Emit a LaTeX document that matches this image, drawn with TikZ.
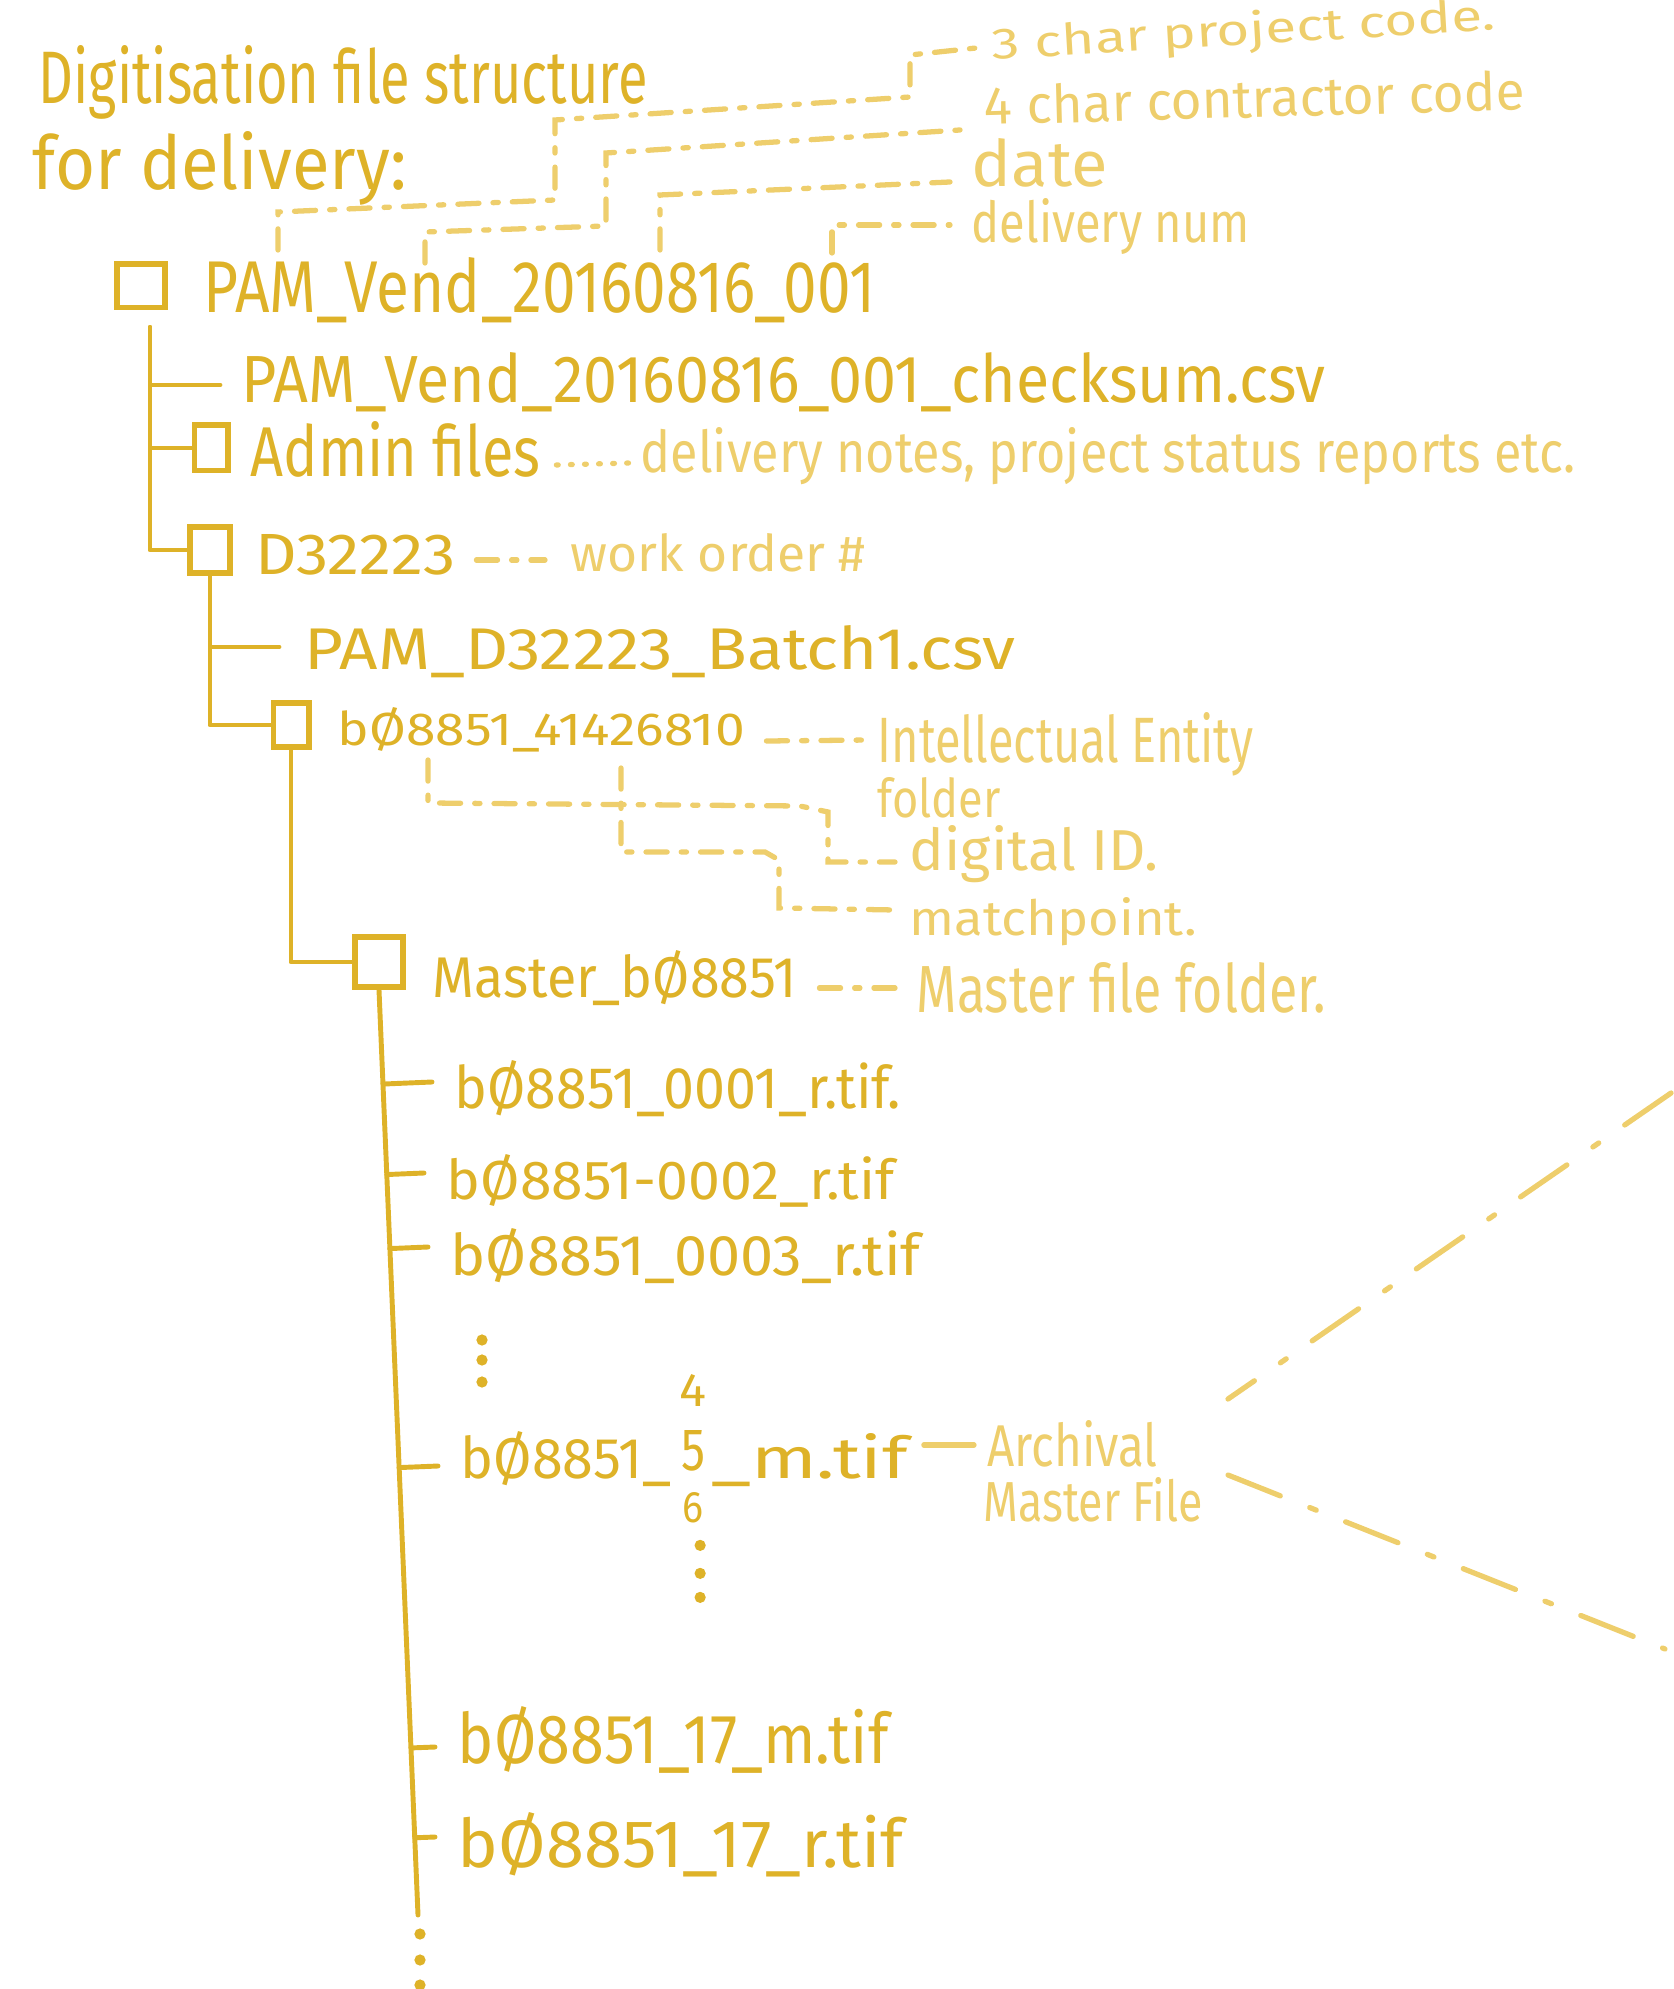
\documentclass[tikz,border=0pt]{standalone}
\usepackage{fontspec}
\setmainfont{Fira Sans}
\usepackage{graphicx}
\usetikzlibrary{positioning,calc}

\definecolor{inkgold}{RGB}{222,178,40}
\definecolor{palegold}{RGB}{238,206,108}

% one unit = one pixel of the sketch
\newdimen\px \px=0.01cm
\newcommand\handfit[3]{\resizebox{#1\px}{#2\px}{#3}}

\tikzset{
  ink/.style={text=inkgold, inner sep=0pt, anchor=base west},
  note/.style={text=palegold, inner sep=0pt, anchor=base west},
  folder/.style={draw=inkgold, line width=1.7pt, inner sep=0pt},
  branch/.style={draw=inkgold, line width=1.4pt, line cap=round, line join=round},
  guide/.style={draw=palegold, line width=1.5pt, line cap=round, dash pattern=on 6pt off 4pt on 1.5pt off 4pt},
  dots/.style={draw=palegold, line width=1.5pt, line cap=round, dash pattern=on 0.5pt off 3.5pt},
  cone/.style={draw=palegold, line width=1.5pt, line cap=round, dash pattern=on 16pt off 9pt on 2pt off 9pt},
}

\begin{document}
\begin{tikzpicture}[x=0.01cm, y=-0.01cm]
    \useasboundingbox (0,0) rectangle (1673,1989);

    % Title
    \node[ink] (title1) at (38,104) {\handfit{609}{58}{Digitisation file structure}};
    \node[ink] (title2) at (32,190) {\handfit{374}{58}{for delivery:}};

    % Name parts
    \node[note, rotate=3.4] (c3) at (992,60) {\handfit{504}{34}{3 char project code.}};
    \node[note, rotate=1.6] (c4) at (984,125) {\handfit{541}{40}{4 char contractor code}};
    \node[note] (cdate) at (971,187) {\handfit{136}{48}{date}};
    \node[note] (cnum) at (971,243) {\handfit{278}{44}{delivery num}};

    % Delivery folder
    \node[folder, minimum width=0.47cm, minimum height=0.43cm] (boxA) at (141,286) {};
    \node[ink] (pam) at (203,313) {\handfit{672}{55}{PAM\_Vend\_20160816\_001}};
    \node[ink] (chk) at (241,403) {\handfit{1084}{50}{PAM\_Vend\_20160816\_001\_checksum.csv}};
    \node[folder, minimum width=0.33cm, minimum height=0.45cm] (boxB) at (211,448) {};
    \node[ink] (admin) at (250,477) {\handfit{290}{55}{Admin files}};
    \node[note] (notes) at (640,473) {\handfit{935}{45}{delivery notes, project status reports etc.}};
    \node[folder, minimum width=0.40cm, minimum height=0.46cm] (boxC) at (210,550) {};
    \node[ink] (dwo) at (255,575) {\handfit{200}{40}{D32223}};
    \node[note] (wo) at (570,572) {\handfit{295}{38}{work order \#}};

    % Work order folder
    \node[ink] (batch) at (304,670) {\handfit{711}{44}{PAM\_D32223\_Batch1.csv}};
    \node[folder, minimum width=0.35cm, minimum height=0.44cm] (boxD) at (291,725) {};
    \node[ink] (ie) at (337,745) {\handfit{407}{38}{bØ8851\_41426810}};
    \node[note] (iet) at (877,763) {\handfit{376}{50}{Intellectual Entity}};
    \node[note] (ief) at (877,818) {\handfit{123}{40}{folder}};
    \node[note] (dig) at (909,870) {\handfit{249}{45}{digital ID.}};
    \node[note] (mp) at (909,935) {\handfit{287}{38}{matchpoint.}};

    % Master folder
    \node[folder, minimum width=0.48cm, minimum height=0.50cm] (boxE) at (379,962) {};
    \node[ink] (mst) at (432,997) {\handfit{364}{47}{Master\_bØ8851}};
    \node[note] (mff) at (916,1012) {\handfit{409}{50}{Master file folder.}};
    \node[ink] (f1) at (454,1108) {\handfit{446}{48}{bØ8851\_0001\_r.tif.}};
    \node[ink] (f2) at (446,1199) {\handfit{448}{45}{bØ8851-0002\_r.tif}};
    \node[ink] (f3) at (450,1275) {\handfit{470}{47}{bØ8851\_0003\_r.tif}};
    \node[ink] (f5a) at (460,1478) {\handfit{211}{47}{bØ8851\_}};
    \node[ink, base right=0.08cm of f5a, yshift=0.08cm] (f5n) {\handfit{24}{40}{5}};
    \node[ink, base right=0.07cm of f5a.base east, xshift=0.31cm] (f5b) {\handfit{197}{45}{\_m.tif}};
    \node[ink, above=0.22cm of f5n] (four) {\handfit{27}{32}{4}};
    \node[ink, below=0.2cm of f5n] (six) {\handfit{21}{30}{6}};
    \node[note] (arch) at (987,1466) {\handfit{170}{46}{Archival}};
    \node[note] (archm) at (983,1521) {\handfit{219}{44}{Master File}};
    \node[ink] (f17m) at (457,1763) {\handfit{431}{57}{bØ8851\_17\_m.tif}};
    \node[ink] (f17r) at (457,1867) {\handfit{446}{55}{bØ8851\_17\_r.tif}};

    % Tree
    \draw[branch] ([shift={(9,17)}]boxA.south) |- (boxC.west);
    \draw[branch] ([shift={(9,17)}]boxA.south) |- ([shift={(-21,-18)}]chk.base west);
    \draw[branch] ([shift={(9,17)}]boxA.south) |- (boxB.west);
    \draw[branch] (boxC.south) |- (boxD.west);
    \draw[branch] (boxC.south) |- ([shift={(-25,-23)}]batch.base west);
    \draw[branch] (boxD.south) |- (boxE.west);
    \coordinate (endE) at (418,1915);
    \draw[branch] (boxE.south) -- (endE);
    \foreach \n/\dy in {f1/26, f2/26, f3/28, f5a/12, f17m/16, f17r/30}{
        \coordinate (tip) at ([shift={(-22,-\dy)}]\n.base west);
        \draw[branch] ($(boxE.south)!(tip)!(endE)$) -- (tip);
    }
    \foreach \y in {1340,1360,1382} \fill[inkgold] (482,\y) circle (1.6pt);
    \foreach \d in {22,50,74} \fill[inkgold] ([shift={(7,\d)}]six.south) circle (1.6pt);
    \foreach \y in {1934,1960,1985} \fill[inkgold] (420,\y) circle (1.6pt);

    % Notes
    \draw[guide] (278,250) -- (278,212) -- (555,200) -- (555,120) -- (910,97) -- (910,55) -- ([shift={(-12,0)}]c3.west);
    \draw[guide] (425,263) -- (425,232) -- (606,226) -- (606,153) -- ([shift={(-24,5)}]c4.base west);
    \draw[guide] (660,250) -- (660,195) -- ([shift={(-21,-5)}]cdate.base west);
    \draw[guide] (832,253) -- (832,225) -- ([shift={(-21,-18)}]cnum.base west);
    \draw[dots] ([shift={(15,-12)}]admin.base east) -- ([shift={(-10,-10)}]notes.base west);
    \draw[guide] ([shift={(20,-15)}]dwo.base east) -- ([shift={(-25,-12)}]wo.base west);
    \draw[guide] ([shift={(21,-4)}]ie.base east) -- ([shift={(-7,-23)}]iet.base west);
    \draw[guide] (428,760) -- (428,803) -- (800,806) -- (828,812) -- (828,862) -- ([shift={(-14,-8)}]dig.base west);
    \draw[guide] (621,768) -- (621,852) -- (765,852) -- (779,860) -- (779,908) -- ([shift={(-14,-25)}]mp.base west);
    \draw[guide] ([shift={(22,-9)}]mst.base east) -- ([shift={(-21,-24)}]mff.base west);
    \draw[palegold, line width=1.5pt, line cap=round] ([shift={(15,-33)}]f5b.base east) -- ([shift={(-13,-21)}]arch.base west);

    % Zoom cone
    \coordinate (coneA) at (1671,1093);
    \coordinate (coneB) at (1228,1399);
    \coordinate (coneC) at (1228,1475);
    \coordinate (coneD) at (1665,1649);
    \draw[cone] (coneA) -- (coneB);
    \draw[cone] (coneC) -- (coneD);
\end{tikzpicture}
\end{document}
